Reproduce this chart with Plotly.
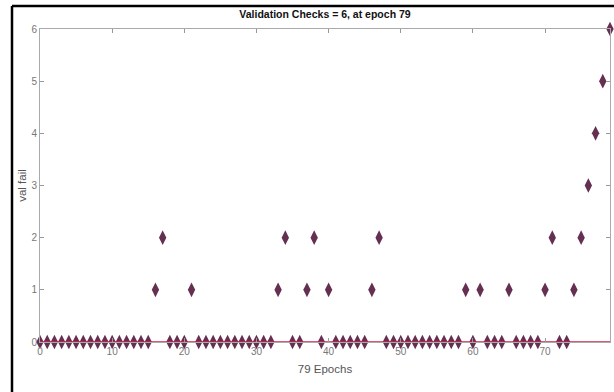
import plotly.graph_objects as go

epochs = list(range(0, 80))
val_fail = [0]*16 + [1, 2] + [0]*3 + [1] + [0]*11 + [1, 2] + [0]*2 + [1, 2] + [0] + [1] + [0]*5 + [1, 2] + [0]*11 + [1] + [0] + [1] + [0]*3 + [1] + [0]*4 + [1, 2] + [0]*2 + [1, 2, 3, 4, 5, 6]
assert len(val_fail) == len(epochs)

x_ticks = [0, 10, 20, 30, 40, 50, 60, 70]
y_ticks = [0, 1, 2, 3, 4, 5, 6]
title_text = "Validation Checks = 6, at epoch 79"
x_label = "79 Epochs"
y_label = "val fail"

font_fam = "Liberation Sans Narrow, Arial Narrow, Liberation Sans, sans-serif"

fig = go.Figure()
fig.add_trace(go.Scatter(
    x=epochs, y=val_fail, mode="markers",
    marker=dict(symbol="diamond-tall", size=10.5, color="#642f50",
                line=dict(width=0)),
    showlegend=False, cliponaxis=False))
fig.add_trace(go.Scatter(
    x=[epochs[0], epochs[-1]], y=[0, 0], mode="lines",
    line=dict(color="#d0204a", width=1.6),
    showlegend=False, cliponaxis=False))

W, H = 614, 392
ml, mr, mt, mb = 40, 4, 29, 50
pw = W - ml - mr
ph = H - mt - mb

fig.update_layout(
    width=W, height=H,
    margin=dict(l=ml, r=mr, t=mt, b=mb),
    paper_bgcolor="white", plot_bgcolor="white",
    font=dict(family=font_fam, color="#555555", size=10),
    title=dict(text=title_text, x=325 / W, xanchor="center",
               y=1 - 14 / H, yanchor="middle",
               font=dict(family=font_fam, size=10.5, color="#111111", weight="bold")),
    xaxis=dict(range=[0, 79], tickvals=x_ticks, ticks="inside", ticklen=4,
               tickcolor="#999999", showline=True, linecolor="#aaaaaa",
               linewidth=1, mirror="ticks", showgrid=False, zeroline=False,
               title=dict(text=x_label, standoff=8,
                          font=dict(family=font_fam, size=11.5, color="#555555")),
               tickfont=dict(family=font_fam, size=10, color="#777777")),
    yaxis=dict(range=[0, 6], tickvals=y_ticks, ticks="inside", ticklen=4,
               tickcolor="#999999", showline=True, linecolor="#aaaaaa",
               linewidth=1, mirror="ticks", showgrid=False, zeroline=False,
               title=dict(text=y_label, standoff=2,
                          font=dict(family=font_fam, size=11.5, color="#555555")),
               tickfont=dict(family=font_fam, size=10, color="#777777")),
)

# black frame lines (left and top edges of the original screenshot)
lx = (12 - ml) / pw
ty = 1 + (mt - 6) / ph
fig.add_shape(type="line", xref="paper", yref="paper", x0=lx, x1=lx,
              y0=-(H - mt - ph) / ph - 0.01, y1=ty, line=dict(color="black", width=2.5))
fig.add_shape(type="line", xref="paper", yref="paper", x0=lx, x1=(W - ml) / pw + 0.01,
              y0=ty, y1=ty, line=dict(color="black", width=2.5))

fig.write_html("out.html", config={"displayModeBar": False},
               post_script="document.body.style.margin='0';")
